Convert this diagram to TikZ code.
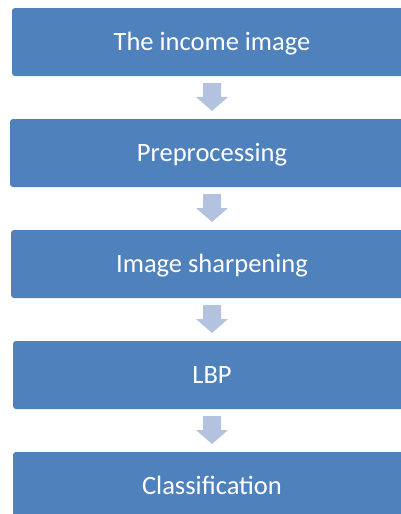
\documentclass[tikz,border=0pt]{standalone}
\usepackage{fontspec}
\setmainfont{Carlito}
\definecolor{boxblue}{HTML}{4F81BD}
\definecolor{arrowblue}{HTML}{B3C3DF}
\begin{document}
\begin{tikzpicture}[x=1pt,y=1pt,
  stagebox/.style={fill=boxblue, draw=none, rounded corners=3pt,
    minimum width=400pt, minimum height=68pt, inner sep=0pt,
    text=white, font=\fontsize{26.5}{30}\selectfont,
    text height=18pt, text depth=2pt},
  blockarrow/.pic={\fill[arrowblue] (-9,0) -- (9,0) -- (9,-14) -- (16,-14)
    -- (0,-28) -- (-16,-14) -- (-9,-14) -- cycle;}]
\useasboundingbox (0,0) rectangle (401,-514);
\clip (0,0) rectangle (401,-514);
\fill[white] (0,0) rectangle (401,-514);
\node[stagebox] (b1) at (212,-42) {The income image};
\node[stagebox, minimum width=404pt] (b2) at (212,-153) {Preprocessing};
\node[stagebox, minimum width=402pt] (b3) at (212,-264) {Image sharpening};
\node[stagebox, minimum width=398pt] (b4) at (212,-375) {LBP};
\node[stagebox, minimum width=398pt] (b5) at (212,-486) {Classification};
\coordinate (a1) at (212,-83);
\coordinate (a2) at (212,-194);
\coordinate (a3) at (212,-305);
\coordinate (a4) at (212,-416);
\pic at (a1) {blockarrow};
\pic at (a2) {blockarrow};
\pic at (a3) {blockarrow};
\pic at (a4) {blockarrow};
\end{tikzpicture}
\end{document}
